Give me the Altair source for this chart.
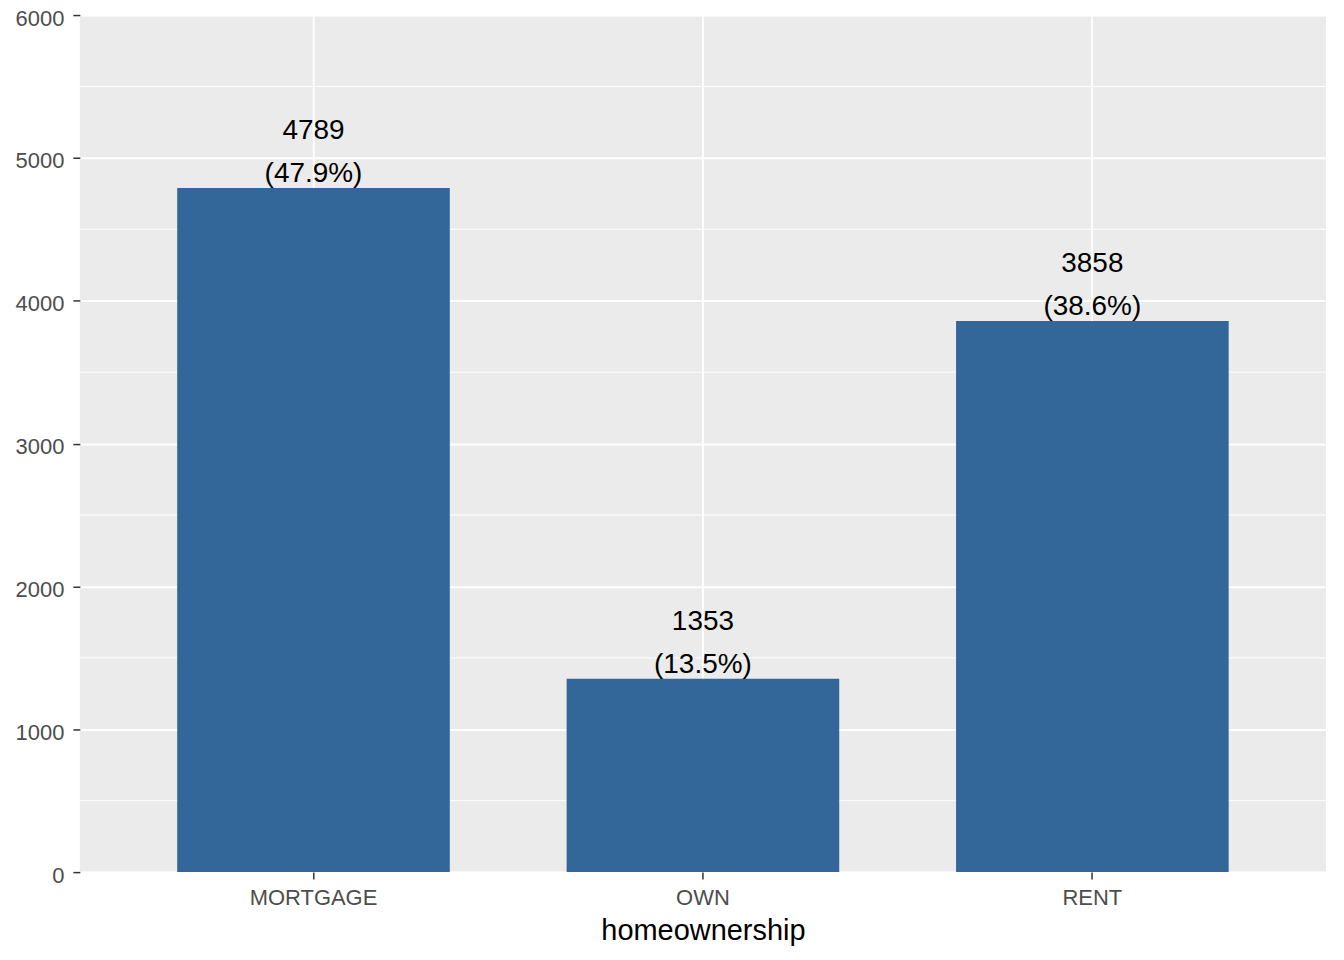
import altair as alt
import pandas as pd

categories = ["MORTGAGE", "OWN", "RENT"]
counts = [4789, 1353, 3858]
percents = ["47.9%", "13.5%", "38.6%"]
y_ticks = [0, 1000, 2000, 3000, 4000, 5000, 6000]
minor_ticks = [500, 1500, 2500, 3500, 4500, 5500]

df = pd.DataFrame({
    "homeownership": categories,
    "n": counts,
    "label": [f"{c}\n({p})" for c, p in zip(counts, percents)],
})
minor_df = pd.DataFrame({"v": minor_ticks})

FONT = "Liberation Sans"

x_enc = alt.X(
    "homeownership:N",
    sort=categories,
    scale=alt.Scale(paddingInner=0.3, paddingOuter=0.25),
    axis=alt.Axis(
        title="homeownership", labelAngle=0, labelFont=FONT, labelFontSize=22,
        labelColor="#4D4D4D", titleFont=FONT, titleFontSize=29, titleColor="#000000",
        titleFontWeight="normal", tickSize=7, tickColor="#333333", tickWidth=1.5,
        domain=False, grid=True, gridColor="#FFFFFF", gridWidth=2, labelPadding=8,
        titlePadding=9,
    ),
)
y_scale = alt.Scale(domain=[0, 6000], nice=False)
y_enc = alt.Y(
    "n:Q",
    scale=y_scale,
    axis=alt.Axis(
        title=None, values=y_ticks, format="d", labelFont=FONT, labelFontSize=22,
        labelColor="#4D4D4D", tickSize=7, tickColor="#333333", tickWidth=1.5,
        domain=False, grid=True, gridColor="#FFFFFF", gridWidth=2, labelPadding=9,
        labelBaseline="alphabetic", labelOffset=10,
    ),
)

minor = alt.Chart(minor_df).mark_rule(color="#FFFFFF", strokeWidth=1).encode(
    y=alt.Y("v:Q", scale=y_scale)
)

bars = alt.Chart(df).mark_bar(color="#336699").encode(x=x_enc, y=y_enc)

text = alt.Chart(df).mark_text(
    lineBreak="\n", lineHeight=43, baseline="bottom", align="center", dy=-43,
    font=FONT, fontSize=28, color="#000000",
).encode(
    x=alt.X("homeownership:N", sort=categories),
    y=alt.Y("n:Q"),
    text="label:N",
)

chart = alt.layer(minor, bars, text).properties(
    width=1249, height=859,
    background="#FFFFFF",
    autosize=alt.AutoSizeParams(type="none"),
    padding={"left": 72, "top": 6, "right": 10, "bottom": 80},
).configure_view(fill="#EBEBEB", strokeWidth=0)

chart.save("out.html", embed_options={"renderer": "svg", "actions": False})
